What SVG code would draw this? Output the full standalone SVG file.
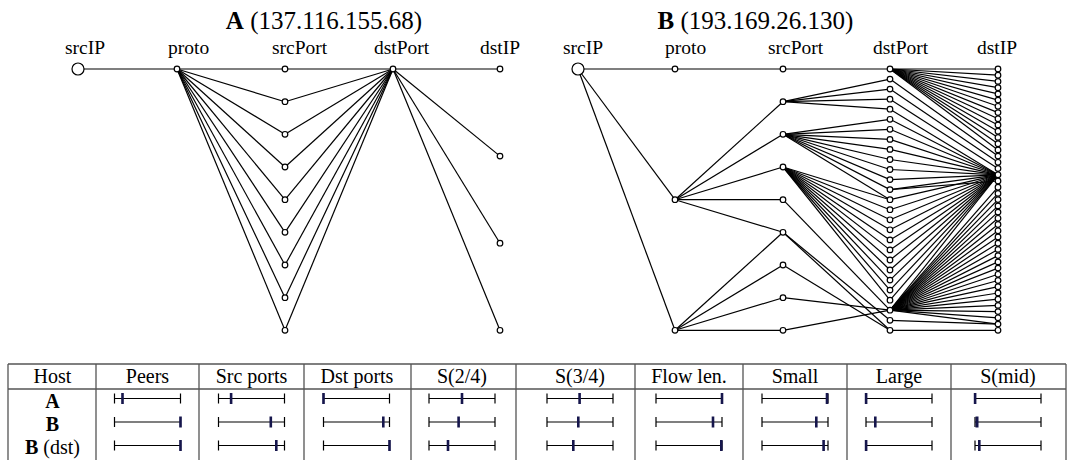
<svg xmlns="http://www.w3.org/2000/svg" width="1070" height="460" viewBox="0 0 1070 460">
<style>
.e{stroke:#000;stroke-width:1.2;fill:none}
.n{fill:#fff;stroke:#000;stroke-width:1.2}
text{font-family:"Liberation Serif","Times New Roman",serif;fill:#000}
.lbl{font-size:19.5px}
.ttl{font-size:25px;text-anchor:middle}
.th{font-size:20px;text-anchor:middle}
.grid{stroke:#555;stroke-width:1.3;fill:none}
.bar{stroke:#000;stroke-width:1.2;fill:none}
.mk{fill:#16164c}
</style>
<rect width="1070" height="460" fill="#fff"/>
<text class="ttl" x="324" y="29"><tspan font-weight="bold">A</tspan> (137.116.155.68)</text>
<text class="ttl" x="755.5" y="29"><tspan font-weight="bold">B</tspan> (193.169.26.130)</text>
<g id="labels-a">
<text class="lbl" x="65" y="54">srcIP</text>
<text class="lbl" x="168" y="54">proto</text>
<text class="lbl" x="272" y="54">srcPort</text>
<text class="lbl" x="374" y="54">dstPort</text>
<text class="lbl" x="480" y="54">dstIP</text>
</g>
<g id="labels-b">
<text class="lbl" x="563" y="54">srcIP</text>
<text class="lbl" x="665" y="54">proto</text>
<text class="lbl" x="768" y="54">srcPort</text>
<text class="lbl" x="873" y="54">dstPort</text>
<text class="lbl" x="977" y="54">dstIP</text>
</g>
<g id="connectors">
<line class="e" x1="78" y1="69" x2="177" y2="69"/>
<line class="e" x1="177" y1="69" x2="285" y2="69"/>
<line class="e" x1="285" y1="69" x2="393" y2="69"/>
<line class="e" x1="393" y1="69" x2="500" y2="69"/>
<line class="e" x1="177" y1="69" x2="285" y2="101.7"/>
<line class="e" x1="177" y1="69" x2="285" y2="134.3"/>
<line class="e" x1="177" y1="69" x2="285" y2="167"/>
<line class="e" x1="177" y1="69" x2="285" y2="199.7"/>
<line class="e" x1="177" y1="69" x2="285" y2="232.3"/>
<line class="e" x1="177" y1="69" x2="285" y2="265"/>
<line class="e" x1="177" y1="69" x2="285" y2="297.7"/>
<line class="e" x1="177" y1="69" x2="285" y2="330.3"/>
<line class="e" x1="285" y1="101.7" x2="393" y2="69"/>
<line class="e" x1="285" y1="134.3" x2="393" y2="69"/>
<line class="e" x1="285" y1="167" x2="393" y2="69"/>
<line class="e" x1="285" y1="199.7" x2="393" y2="69"/>
<line class="e" x1="285" y1="232.3" x2="393" y2="69"/>
<line class="e" x1="285" y1="265" x2="393" y2="69"/>
<line class="e" x1="285" y1="297.7" x2="393" y2="69"/>
<line class="e" x1="285" y1="330.3" x2="393" y2="69"/>
<line class="e" x1="393" y1="69" x2="500" y2="156.1"/>
<line class="e" x1="393" y1="69" x2="500" y2="243.2"/>
<line class="e" x1="393" y1="69" x2="500" y2="330.3"/>
<line class="e" x1="578" y1="69" x2="675" y2="69"/>
<line class="e" x1="578" y1="69" x2="675" y2="199.7"/>
<line class="e" x1="578" y1="69" x2="675" y2="330.3"/>
<line class="e" x1="675" y1="69" x2="783" y2="69"/>
<line class="e" x1="675" y1="199.7" x2="783" y2="101.7"/>
<line class="e" x1="675" y1="199.7" x2="783" y2="134.3"/>
<line class="e" x1="675" y1="199.7" x2="783" y2="167"/>
<line class="e" x1="675" y1="199.7" x2="783" y2="199.7"/>
<line class="e" x1="675" y1="199.7" x2="783" y2="232.3"/>
<line class="e" x1="675" y1="330.3" x2="783" y2="232.3"/>
<line class="e" x1="675" y1="330.3" x2="783" y2="265"/>
<line class="e" x1="675" y1="330.3" x2="783" y2="297.7"/>
<line class="e" x1="675" y1="330.3" x2="783" y2="330.3"/>
<line class="e" x1="783" y1="69" x2="890" y2="69"/>
<line class="e" x1="783" y1="101.7" x2="890" y2="79.1"/>
<line class="e" x1="783" y1="101.7" x2="890" y2="89.1"/>
<line class="e" x1="783" y1="101.7" x2="890" y2="99.2"/>
<line class="e" x1="783" y1="101.7" x2="890" y2="109.2"/>
<line class="e" x1="783" y1="134.3" x2="890" y2="119.3"/>
<line class="e" x1="783" y1="134.3" x2="890" y2="129.3"/>
<line class="e" x1="783" y1="134.3" x2="890" y2="139.4"/>
<line class="e" x1="783" y1="134.3" x2="890" y2="149.4"/>
<line class="e" x1="783" y1="134.3" x2="890" y2="159.5"/>
<line class="e" x1="783" y1="134.3" x2="890" y2="169.5"/>
<line class="e" x1="783" y1="134.3" x2="890" y2="179.6"/>
<line class="e" x1="783" y1="134.3" x2="890" y2="189.6"/>
<line class="e" x1="783" y1="134.3" x2="890" y2="199.7"/>
<line class="e" x1="783" y1="167" x2="890" y2="199.7"/>
<line class="e" x1="783" y1="167" x2="890" y2="209.7"/>
<line class="e" x1="783" y1="167" x2="890" y2="219.8"/>
<line class="e" x1="783" y1="167" x2="890" y2="229.8"/>
<line class="e" x1="783" y1="167" x2="890" y2="239.9"/>
<line class="e" x1="783" y1="167" x2="890" y2="249.9"/>
<line class="e" x1="783" y1="167" x2="890" y2="260"/>
<line class="e" x1="783" y1="167" x2="890" y2="270"/>
<line class="e" x1="783" y1="167" x2="890" y2="280.1"/>
<line class="e" x1="783" y1="167" x2="890" y2="290.1"/>
<line class="e" x1="783" y1="167" x2="890" y2="300.2"/>
<line class="e" x1="783" y1="199.7" x2="890" y2="310.2"/>
<line class="e" x1="783" y1="232.3" x2="890" y2="320.3"/>
<line class="e" x1="783" y1="232.3" x2="890" y2="330.3"/>
<line class="e" x1="783" y1="265" x2="890" y2="330.3"/>
<line class="e" x1="783" y1="297.7" x2="890" y2="310.2"/>
<line class="e" x1="783" y1="330.3" x2="890" y2="310.2"/>
<line class="e" x1="890" y1="69" x2="998" y2="69"/>
<line class="e" x1="890" y1="69" x2="998" y2="75.2"/>
<line class="e" x1="890" y1="69" x2="998" y2="81.4"/>
<line class="e" x1="890" y1="69" x2="998" y2="87.7"/>
<line class="e" x1="890" y1="69" x2="998" y2="93.9"/>
<line class="e" x1="890" y1="69" x2="998" y2="100.1"/>
<line class="e" x1="890" y1="69" x2="998" y2="106.3"/>
<line class="e" x1="890" y1="69" x2="998" y2="112.6"/>
<line class="e" x1="890" y1="69" x2="998" y2="118.8"/>
<line class="e" x1="890" y1="69" x2="998" y2="125"/>
<line class="e" x1="890" y1="69" x2="998" y2="131.2"/>
<line class="e" x1="890" y1="69" x2="998" y2="137.4"/>
<line class="e" x1="890" y1="69" x2="998" y2="143.7"/>
<line class="e" x1="890" y1="69" x2="998" y2="149.9"/>
<line class="e" x1="890" y1="79.1" x2="998" y2="156.1"/>
<line class="e" x1="890" y1="89.1" x2="998" y2="162.3"/>
<line class="e" x1="890" y1="99.2" x2="998" y2="168.5"/>
<line class="e" x1="890" y1="109.2" x2="998" y2="174.8"/>
<line class="e" x1="890" y1="119.3" x2="998" y2="174.8"/>
<line class="e" x1="890" y1="129.3" x2="998" y2="174.8"/>
<line class="e" x1="890" y1="139.4" x2="998" y2="174.8"/>
<line class="e" x1="890" y1="149.4" x2="998" y2="174.8"/>
<line class="e" x1="890" y1="159.5" x2="998" y2="174.8"/>
<line class="e" x1="890" y1="169.5" x2="998" y2="174.8"/>
<line class="e" x1="890" y1="179.6" x2="998" y2="174.8"/>
<line class="e" x1="890" y1="189.6" x2="998" y2="174.8"/>
<line class="e" x1="890" y1="189.6" x2="998" y2="181"/>
<line class="e" x1="890" y1="199.7" x2="998" y2="174.8"/>
<line class="e" x1="890" y1="209.7" x2="998" y2="174.8"/>
<line class="e" x1="890" y1="219.8" x2="998" y2="174.8"/>
<line class="e" x1="890" y1="229.8" x2="998" y2="174.8"/>
<line class="e" x1="890" y1="239.9" x2="998" y2="174.8"/>
<line class="e" x1="890" y1="249.9" x2="998" y2="174.8"/>
<line class="e" x1="890" y1="260" x2="998" y2="174.8"/>
<line class="e" x1="890" y1="270" x2="998" y2="174.8"/>
<line class="e" x1="890" y1="280.1" x2="998" y2="174.8"/>
<line class="e" x1="890" y1="290.1" x2="998" y2="174.8"/>
<line class="e" x1="890" y1="300.2" x2="998" y2="174.8"/>
<line class="e" x1="890" y1="310.2" x2="998" y2="174.8"/>
<line class="e" x1="890" y1="310.2" x2="998" y2="187.2"/>
<line class="e" x1="890" y1="310.2" x2="998" y2="193.4"/>
<line class="e" x1="890" y1="310.2" x2="998" y2="199.6"/>
<line class="e" x1="890" y1="310.2" x2="998" y2="205.9"/>
<line class="e" x1="890" y1="310.2" x2="998" y2="212.1"/>
<line class="e" x1="890" y1="310.2" x2="998" y2="218.3"/>
<line class="e" x1="890" y1="310.2" x2="998" y2="224.5"/>
<line class="e" x1="890" y1="310.2" x2="998" y2="230.8"/>
<line class="e" x1="890" y1="310.2" x2="998" y2="237"/>
<line class="e" x1="890" y1="310.2" x2="998" y2="243.2"/>
<line class="e" x1="890" y1="310.2" x2="998" y2="249.4"/>
<line class="e" x1="890" y1="310.2" x2="998" y2="255.6"/>
<line class="e" x1="890" y1="310.2" x2="998" y2="261.9"/>
<line class="e" x1="890" y1="310.2" x2="998" y2="268.1"/>
<line class="e" x1="890" y1="310.2" x2="998" y2="274.3"/>
<line class="e" x1="890" y1="310.2" x2="998" y2="280.5"/>
<line class="e" x1="890" y1="310.2" x2="998" y2="286.7"/>
<line class="e" x1="890" y1="310.2" x2="998" y2="293"/>
<line class="e" x1="890" y1="310.2" x2="998" y2="299.2"/>
<line class="e" x1="890" y1="310.2" x2="998" y2="305.4"/>
<line class="e" x1="890" y1="310.2" x2="998" y2="311.6"/>
<line class="e" x1="890" y1="310.2" x2="998" y2="317.8"/>
<line class="e" x1="890" y1="310.2" x2="998" y2="324.1"/>
<line class="e" x1="890" y1="320.3" x2="998" y2="324.1"/>
<line class="e" x1="890" y1="330.3" x2="998" y2="330.3"/>
</g>
<g id="a-srcip"><circle class="n" cx="78" cy="69" r="6"/></g>
<g id="a-proto"><circle class="n" cx="177" cy="69" r="2.8"/></g>
<g id="a-sp0"><circle class="n" cx="285" cy="69" r="2.8"/></g>
<g id="a-sp1"><circle class="n" cx="285" cy="101.7" r="2.8"/></g>
<g id="a-sp2"><circle class="n" cx="285" cy="134.3" r="2.8"/></g>
<g id="a-sp3"><circle class="n" cx="285" cy="167" r="2.8"/></g>
<g id="a-sp4"><circle class="n" cx="285" cy="199.7" r="2.8"/></g>
<g id="a-sp5"><circle class="n" cx="285" cy="232.3" r="2.8"/></g>
<g id="a-sp6"><circle class="n" cx="285" cy="265" r="2.8"/></g>
<g id="a-sp7"><circle class="n" cx="285" cy="297.7" r="2.8"/></g>
<g id="a-sp8"><circle class="n" cx="285" cy="330.3" r="2.8"/></g>
<g id="a-dp0"><circle class="n" cx="393" cy="69" r="2.8"/></g>
<g id="a-dip0"><circle class="n" cx="500" cy="69" r="2.8"/></g>
<g id="a-dip1"><circle class="n" cx="500" cy="156.1" r="2.8"/></g>
<g id="a-dip2"><circle class="n" cx="500" cy="243.2" r="2.8"/></g>
<g id="a-dip3"><circle class="n" cx="500" cy="330.3" r="2.8"/></g>
<g id="b-srcip"><circle class="n" cx="578" cy="69" r="6"/></g>
<g id="b-proto0"><circle class="n" cx="675" cy="69" r="2.8"/></g>
<g id="b-proto1"><circle class="n" cx="675" cy="199.7" r="2.8"/></g>
<g id="b-proto2"><circle class="n" cx="675" cy="330.3" r="2.8"/></g>
<g id="b-sp0"><circle class="n" cx="783" cy="69" r="2.8"/></g>
<g id="b-sp1"><circle class="n" cx="783" cy="101.7" r="2.8"/></g>
<g id="b-sp2"><circle class="n" cx="783" cy="134.3" r="2.8"/></g>
<g id="b-sp3"><circle class="n" cx="783" cy="167" r="2.8"/></g>
<g id="b-sp4"><circle class="n" cx="783" cy="199.7" r="2.8"/></g>
<g id="b-sp5"><circle class="n" cx="783" cy="232.3" r="2.8"/></g>
<g id="b-sp6"><circle class="n" cx="783" cy="265" r="2.8"/></g>
<g id="b-sp7"><circle class="n" cx="783" cy="297.7" r="2.8"/></g>
<g id="b-sp8"><circle class="n" cx="783" cy="330.3" r="2.8"/></g>
<g id="b-dp0"><circle class="n" cx="890" cy="69" r="2.8"/></g>
<g id="b-dp1"><circle class="n" cx="890" cy="79.1" r="2.8"/></g>
<g id="b-dp2"><circle class="n" cx="890" cy="89.1" r="2.8"/></g>
<g id="b-dp3"><circle class="n" cx="890" cy="99.2" r="2.8"/></g>
<g id="b-dp4"><circle class="n" cx="890" cy="109.2" r="2.8"/></g>
<g id="b-dp5"><circle class="n" cx="890" cy="119.3" r="2.8"/></g>
<g id="b-dp6"><circle class="n" cx="890" cy="129.3" r="2.8"/></g>
<g id="b-dp7"><circle class="n" cx="890" cy="139.4" r="2.8"/></g>
<g id="b-dp8"><circle class="n" cx="890" cy="149.4" r="2.8"/></g>
<g id="b-dp9"><circle class="n" cx="890" cy="159.5" r="2.8"/></g>
<g id="b-dp10"><circle class="n" cx="890" cy="169.5" r="2.8"/></g>
<g id="b-dp11"><circle class="n" cx="890" cy="179.6" r="2.8"/></g>
<g id="b-dp12"><circle class="n" cx="890" cy="189.6" r="2.8"/></g>
<g id="b-dp13"><circle class="n" cx="890" cy="199.7" r="2.8"/></g>
<g id="b-dp14"><circle class="n" cx="890" cy="209.7" r="2.8"/></g>
<g id="b-dp15"><circle class="n" cx="890" cy="219.8" r="2.8"/></g>
<g id="b-dp16"><circle class="n" cx="890" cy="229.8" r="2.8"/></g>
<g id="b-dp17"><circle class="n" cx="890" cy="239.9" r="2.8"/></g>
<g id="b-dp18"><circle class="n" cx="890" cy="249.9" r="2.8"/></g>
<g id="b-dp19"><circle class="n" cx="890" cy="260" r="2.8"/></g>
<g id="b-dp20"><circle class="n" cx="890" cy="270" r="2.8"/></g>
<g id="b-dp21"><circle class="n" cx="890" cy="280.1" r="2.8"/></g>
<g id="b-dp22"><circle class="n" cx="890" cy="290.1" r="2.8"/></g>
<g id="b-dp23"><circle class="n" cx="890" cy="300.2" r="2.8"/></g>
<g id="b-dp24"><circle class="n" cx="890" cy="310.2" r="2.8"/></g>
<g id="b-dp25"><circle class="n" cx="890" cy="320.3" r="2.8"/></g>
<g id="b-dp26"><circle class="n" cx="890" cy="330.3" r="2.8"/></g>
<g id="b-dip0"><circle class="n" cx="998" cy="69" r="2.8"/></g>
<g id="b-dip1"><circle class="n" cx="998" cy="75.2" r="2.8"/></g>
<g id="b-dip2"><circle class="n" cx="998" cy="81.4" r="2.8"/></g>
<g id="b-dip3"><circle class="n" cx="998" cy="87.7" r="2.8"/></g>
<g id="b-dip4"><circle class="n" cx="998" cy="93.9" r="2.8"/></g>
<g id="b-dip5"><circle class="n" cx="998" cy="100.1" r="2.8"/></g>
<g id="b-dip6"><circle class="n" cx="998" cy="106.3" r="2.8"/></g>
<g id="b-dip7"><circle class="n" cx="998" cy="112.6" r="2.8"/></g>
<g id="b-dip8"><circle class="n" cx="998" cy="118.8" r="2.8"/></g>
<g id="b-dip9"><circle class="n" cx="998" cy="125" r="2.8"/></g>
<g id="b-dip10"><circle class="n" cx="998" cy="131.2" r="2.8"/></g>
<g id="b-dip11"><circle class="n" cx="998" cy="137.4" r="2.8"/></g>
<g id="b-dip12"><circle class="n" cx="998" cy="143.7" r="2.8"/></g>
<g id="b-dip13"><circle class="n" cx="998" cy="149.9" r="2.8"/></g>
<g id="b-dip14"><circle class="n" cx="998" cy="156.1" r="2.8"/></g>
<g id="b-dip15"><circle class="n" cx="998" cy="162.3" r="2.8"/></g>
<g id="b-dip16"><circle class="n" cx="998" cy="168.5" r="2.8"/></g>
<g id="b-dip17"><circle class="n" cx="998" cy="174.8" r="2.8"/></g>
<g id="b-dip18"><circle class="n" cx="998" cy="181" r="2.8"/></g>
<g id="b-dip19"><circle class="n" cx="998" cy="187.2" r="2.8"/></g>
<g id="b-dip20"><circle class="n" cx="998" cy="193.4" r="2.8"/></g>
<g id="b-dip21"><circle class="n" cx="998" cy="199.6" r="2.8"/></g>
<g id="b-dip22"><circle class="n" cx="998" cy="205.9" r="2.8"/></g>
<g id="b-dip23"><circle class="n" cx="998" cy="212.1" r="2.8"/></g>
<g id="b-dip24"><circle class="n" cx="998" cy="218.3" r="2.8"/></g>
<g id="b-dip25"><circle class="n" cx="998" cy="224.5" r="2.8"/></g>
<g id="b-dip26"><circle class="n" cx="998" cy="230.8" r="2.8"/></g>
<g id="b-dip27"><circle class="n" cx="998" cy="237" r="2.8"/></g>
<g id="b-dip28"><circle class="n" cx="998" cy="243.2" r="2.8"/></g>
<g id="b-dip29"><circle class="n" cx="998" cy="249.4" r="2.8"/></g>
<g id="b-dip30"><circle class="n" cx="998" cy="255.6" r="2.8"/></g>
<g id="b-dip31"><circle class="n" cx="998" cy="261.9" r="2.8"/></g>
<g id="b-dip32"><circle class="n" cx="998" cy="268.1" r="2.8"/></g>
<g id="b-dip33"><circle class="n" cx="998" cy="274.3" r="2.8"/></g>
<g id="b-dip34"><circle class="n" cx="998" cy="280.5" r="2.8"/></g>
<g id="b-dip35"><circle class="n" cx="998" cy="286.7" r="2.8"/></g>
<g id="b-dip36"><circle class="n" cx="998" cy="293" r="2.8"/></g>
<g id="b-dip37"><circle class="n" cx="998" cy="299.2" r="2.8"/></g>
<g id="b-dip38"><circle class="n" cx="998" cy="305.4" r="2.8"/></g>
<g id="b-dip39"><circle class="n" cx="998" cy="311.6" r="2.8"/></g>
<g id="b-dip40"><circle class="n" cx="998" cy="317.8" r="2.8"/></g>
<g id="b-dip41"><circle class="n" cx="998" cy="324.1" r="2.8"/></g>
<g id="b-dip42"><circle class="n" cx="998" cy="330.3" r="2.8"/></g>
<g id="table">
<path class="grid" d="M8 364H1066M8 389H1066M8 364V460M96 364V460M199 364V460M304 364V460M411 364V460M516 364V460M635 364V460M743 364V460M847 364V460M951 364V460M1066 364V460"/>
<text class="th" x="52.5" y="383">Host</text>
<text class="th" x="147.5" y="383">Peers</text>
<text class="th" x="251.5" y="383">Src ports</text>
<text class="th" x="357" y="383">Dst ports</text>
<text class="th" x="462" y="383">S(2/4)</text>
<text class="th" x="580" y="383">S(3/4)</text>
<text class="th" x="689" y="383">Flow len.</text>
<text class="th" x="795" y="383">Small</text>
<text class="th" x="899" y="383">Large</text>
<text class="th" x="1008" y="383">S(mid)</text>
<text class="th" x="52.5" y="407.5"><tspan font-weight="bold">A</tspan></text>
<text class="th" x="52.5" y="431"><tspan font-weight="bold">B</tspan></text>
<text class="th" x="52.5" y="454"><tspan font-weight="bold">B</tspan> (dst)</text>
<path class="bar" d="
M114.5 398.5H180.5M114.5 393.5V403.5M180.5 393.5V403.5
M114.5 422H180.5M114.5 417V427M180.5 417V427
M114.5 445.5H180.5M114.5 440.5V450.5M180.5 440.5V450.5
M218.5 398.5H284.5M218.5 393.5V403.5M284.5 393.5V403.5
M218.5 422H284.5M218.5 417V427M284.5 417V427
M218.5 445.5H284.5M218.5 440.5V450.5M284.5 440.5V450.5
M323.5 398.5H389.5M323.5 393.5V403.5M389.5 393.5V403.5
M323.5 422H389.5M323.5 417V427M389.5 417V427
M323.5 445.5H389.5M323.5 440.5V450.5M389.5 440.5V450.5
M429 398.5H495M429 393.5V403.5M495 393.5V403.5
M429 422H495M429 417V427M495 417V427
M429 445.5H495M429 440.5V450.5M495 440.5V450.5
M547 398.5H613M547 393.5V403.5M613 393.5V403.5
M547 422H613M547 417V427M613 417V427
M547 445.5H613M547 440.5V450.5M613 440.5V450.5
M656 398.5H722M656 393.5V403.5M722 393.5V403.5
M656 422H722M656 417V427M722 417V427
M656 445.5H722M656 440.5V450.5M722 440.5V450.5
M762 398.5H828M762 393.5V403.5M828 393.5V403.5
M762 422H828M762 417V427M828 417V427
M762 445.5H828M762 440.5V450.5M828 440.5V450.5
M866 398.5H932M866 393.5V403.5M932 393.5V403.5
M866 422H932M866 417V427M932 417V427
M866 445.5H932M866 440.5V450.5M932 440.5V450.5
M975 398.5H1041M975 393.5V403.5M1041 393.5V403.5
M975 422H1041M975 417V427M1041 417V427
M975 445.5H1041M975 440.5V450.5M1041 440.5V450.5"/>
<g class="mk">
<rect x="121.2" y="393" width="2.6" height="11"/>
<rect x="179.2" y="416.5" width="2.6" height="11"/>
<rect x="179.2" y="440" width="2.6" height="11"/>
<rect x="229.8" y="393" width="2.6" height="11"/>
<rect x="269.5" y="416.5" width="2.6" height="11"/>
<rect x="275" y="440" width="2.6" height="11"/>
<rect x="322.2" y="393" width="2.6" height="11"/>
<rect x="382" y="416.5" width="2.6" height="11"/>
<rect x="388.2" y="440" width="2.6" height="11"/>
<rect x="460.7" y="393" width="2.6" height="11"/>
<rect x="457.3" y="416.5" width="2.6" height="11"/>
<rect x="446.7" y="440" width="2.6" height="11"/>
<rect x="578.3" y="393" width="2.6" height="11"/>
<rect x="577" y="416.5" width="2.6" height="11"/>
<rect x="572" y="440" width="2.6" height="11"/>
<rect x="720.7" y="393" width="2.6" height="11"/>
<rect x="711.7" y="416.5" width="2.6" height="11"/>
<rect x="720" y="440" width="2.6" height="11"/>
<rect x="825.7" y="393" width="2.6" height="11"/>
<rect x="815" y="416.5" width="2.6" height="11"/>
<rect x="822.3" y="440" width="2.6" height="11"/>
<rect x="864.8" y="393" width="2.6" height="11"/>
<rect x="874" y="416.5" width="2.6" height="11"/>
<rect x="864.8" y="440" width="2.6" height="11"/>
<rect x="973.8" y="393" width="2.6" height="11"/>
<rect x="975.5" y="416.5" width="3" height="11"/>
<rect x="978" y="440" width="2.6" height="11"/>
</g>
</g>
</svg>
